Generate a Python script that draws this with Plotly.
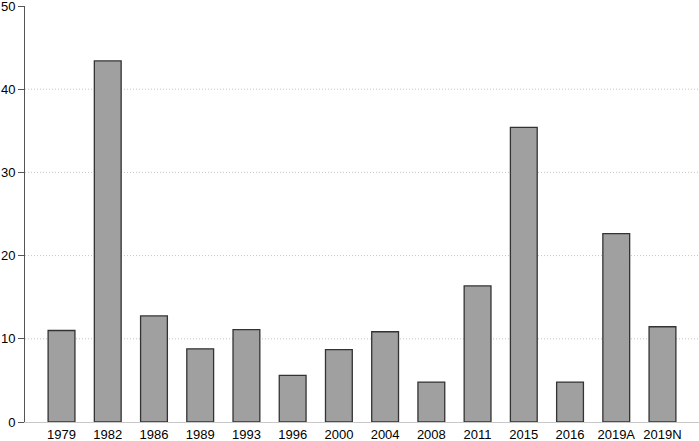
import plotly.graph_objects as go

categories = ["1979", "1982", "1986", "1989", "1993", "1996", "2000", "2004",
              "2008", "2011", "2015", "2016", "2019A", "2019N"]
values = [11.0, 43.4, 12.75, 8.8, 11.1, 5.6, 8.7, 10.85, 4.8, 16.35, 35.4, 4.8, 22.65, 11.45]
y_ticks = [0, 10, 20, 30, 40, 50]
grid_vals = [10, 20, 30, 40]

fig = go.Figure(go.Bar(
    x=categories, y=values,
    marker=dict(color="#a0a0a0", line=dict(color="#333333", width=1.3)),
    width=0.58,
))

shapes = [dict(type="line", xref="paper", x0=0, x1=1, yref="y", y0=g, y1=g,
               line=dict(color="#c4c4c4", width=1, dash="1px,2px"), layer="below")
          for g in grid_vals]

fig.update_layout(
    width=699, height=441,
    margin=dict(l=25, r=0, t=6, b=19, autoexpand=False),
    paper_bgcolor="white", plot_bgcolor="white",
    font=dict(family="Liberation Sans, Arial, sans-serif", size=13, color="black"),
    showlegend=False,
    shapes=shapes,
    xaxis=dict(range=[-0.79, 13.79], showgrid=False, ticks="",
               showline=True, linecolor="#c8c8c8", automargin=False,
               linewidth=1, zeroline=False, ticklabeloverflow="allow"),
    yaxis=dict(range=[0, 50], tickvals=y_ticks, showgrid=False, zeroline=False,
               showline=True, linecolor="#555555", linewidth=1, automargin=False,
               ticks="outside", ticklen=6, tickcolor="#555555",
               ticklabeloverflow="allow"),
)

fig.write_html("out.html", config={"displayModeBar": False},
               post_script="document.body.style.margin='0';document.body.style.overflow='hidden';")
